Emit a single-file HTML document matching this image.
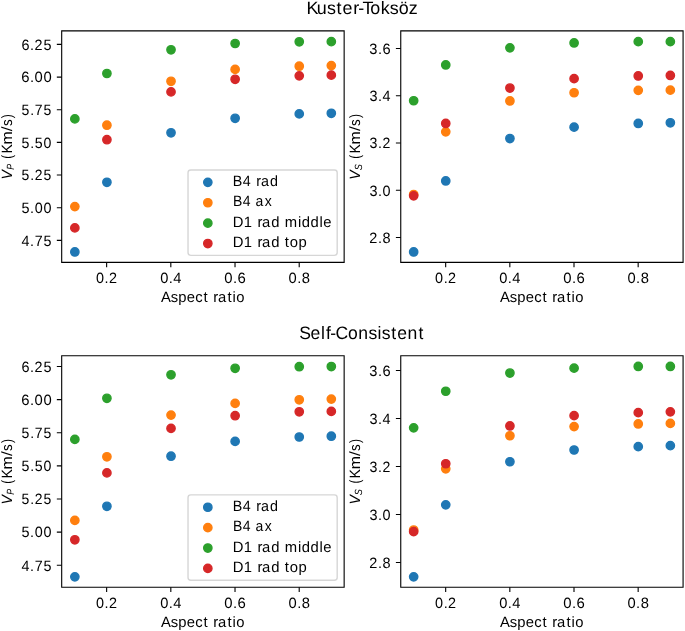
<!DOCTYPE html>
<html><head><meta charset="utf-8"><title>Kuster-Toksöz / Self-Consistent</title>
<style>html,body{margin:0;padding:0;background:#fff;overflow:hidden;width:685px;height:631px}svg{display:block}
text{font-family:"Liberation Sans",sans-serif}</style></head>
<body>
<svg width="685" height="631" viewBox="0 0 685 631"><rect width="685" height="631" fill="#fff"/>
<circle cx="74.85" cy="251.97" r="4.167" fill="#1f77b4" stroke="#1f77b4" stroke-width="1.389"/>
<circle cx="106.91" cy="182.28" r="4.167" fill="#1f77b4" stroke="#1f77b4" stroke-width="1.389"/>
<circle cx="171.02" cy="132.80" r="4.167" fill="#1f77b4" stroke="#1f77b4" stroke-width="1.389"/>
<circle cx="235.13" cy="118.30" r="4.167" fill="#1f77b4" stroke="#1f77b4" stroke-width="1.389"/>
<circle cx="299.25" cy="113.93" r="4.167" fill="#1f77b4" stroke="#1f77b4" stroke-width="1.389"/>
<circle cx="331.31" cy="113.29" r="4.167" fill="#1f77b4" stroke="#1f77b4" stroke-width="1.389"/>
<circle cx="74.85" cy="206.60" r="4.167" fill="#ff7f0e" stroke="#ff7f0e" stroke-width="1.389"/>
<circle cx="106.91" cy="125.20" r="4.167" fill="#ff7f0e" stroke="#ff7f0e" stroke-width="1.389"/>
<circle cx="171.02" cy="81.30" r="4.167" fill="#ff7f0e" stroke="#ff7f0e" stroke-width="1.389"/>
<circle cx="235.13" cy="69.40" r="4.167" fill="#ff7f0e" stroke="#ff7f0e" stroke-width="1.389"/>
<circle cx="299.25" cy="66.20" r="4.167" fill="#ff7f0e" stroke="#ff7f0e" stroke-width="1.389"/>
<circle cx="331.31" cy="65.60" r="4.167" fill="#ff7f0e" stroke="#ff7f0e" stroke-width="1.389"/>
<circle cx="74.85" cy="118.89" r="4.167" fill="#2ca02c" stroke="#2ca02c" stroke-width="1.389"/>
<circle cx="106.91" cy="73.50" r="4.167" fill="#2ca02c" stroke="#2ca02c" stroke-width="1.389"/>
<circle cx="171.02" cy="49.80" r="4.167" fill="#2ca02c" stroke="#2ca02c" stroke-width="1.389"/>
<circle cx="235.13" cy="43.50" r="4.167" fill="#2ca02c" stroke="#2ca02c" stroke-width="1.389"/>
<circle cx="299.25" cy="41.80" r="4.167" fill="#2ca02c" stroke="#2ca02c" stroke-width="1.389"/>
<circle cx="331.31" cy="41.67" r="4.167" fill="#2ca02c" stroke="#2ca02c" stroke-width="1.389"/>
<circle cx="74.85" cy="227.90" r="4.167" fill="#d62728" stroke="#d62728" stroke-width="1.389"/>
<circle cx="106.91" cy="139.70" r="4.167" fill="#d62728" stroke="#d62728" stroke-width="1.389"/>
<circle cx="171.02" cy="91.90" r="4.167" fill="#d62728" stroke="#d62728" stroke-width="1.389"/>
<circle cx="235.13" cy="79.30" r="4.167" fill="#d62728" stroke="#d62728" stroke-width="1.389"/>
<circle cx="299.25" cy="75.87" r="4.167" fill="#d62728" stroke="#d62728" stroke-width="1.389"/>
<circle cx="331.31" cy="75.14" r="4.167" fill="#d62728" stroke="#d62728" stroke-width="1.389"/>
<circle cx="413.67" cy="251.97" r="4.167" fill="#1f77b4" stroke="#1f77b4" stroke-width="1.389"/>
<circle cx="445.76" cy="180.95" r="4.167" fill="#1f77b4" stroke="#1f77b4" stroke-width="1.389"/>
<circle cx="509.92" cy="138.55" r="4.167" fill="#1f77b4" stroke="#1f77b4" stroke-width="1.389"/>
<circle cx="574.09" cy="127.15" r="4.167" fill="#1f77b4" stroke="#1f77b4" stroke-width="1.389"/>
<circle cx="638.25" cy="123.45" r="4.167" fill="#1f77b4" stroke="#1f77b4" stroke-width="1.389"/>
<circle cx="670.34" cy="122.77" r="4.167" fill="#1f77b4" stroke="#1f77b4" stroke-width="1.389"/>
<circle cx="413.67" cy="194.55" r="4.167" fill="#ff7f0e" stroke="#ff7f0e" stroke-width="1.389"/>
<circle cx="445.76" cy="131.85" r="4.167" fill="#ff7f0e" stroke="#ff7f0e" stroke-width="1.389"/>
<circle cx="509.92" cy="100.95" r="4.167" fill="#ff7f0e" stroke="#ff7f0e" stroke-width="1.389"/>
<circle cx="574.09" cy="92.75" r="4.167" fill="#ff7f0e" stroke="#ff7f0e" stroke-width="1.389"/>
<circle cx="638.25" cy="90.35" r="4.167" fill="#ff7f0e" stroke="#ff7f0e" stroke-width="1.389"/>
<circle cx="670.34" cy="90.15" r="4.167" fill="#ff7f0e" stroke="#ff7f0e" stroke-width="1.389"/>
<circle cx="413.67" cy="100.75" r="4.167" fill="#2ca02c" stroke="#2ca02c" stroke-width="1.389"/>
<circle cx="445.76" cy="64.95" r="4.167" fill="#2ca02c" stroke="#2ca02c" stroke-width="1.389"/>
<circle cx="509.92" cy="47.85" r="4.167" fill="#2ca02c" stroke="#2ca02c" stroke-width="1.389"/>
<circle cx="574.09" cy="42.95" r="4.167" fill="#2ca02c" stroke="#2ca02c" stroke-width="1.389"/>
<circle cx="638.25" cy="41.65" r="4.167" fill="#2ca02c" stroke="#2ca02c" stroke-width="1.389"/>
<circle cx="670.34" cy="41.65" r="4.167" fill="#2ca02c" stroke="#2ca02c" stroke-width="1.389"/>
<circle cx="413.67" cy="195.85" r="4.167" fill="#d62728" stroke="#d62728" stroke-width="1.389"/>
<circle cx="445.76" cy="123.45" r="4.167" fill="#d62728" stroke="#d62728" stroke-width="1.389"/>
<circle cx="509.92" cy="88.05" r="4.167" fill="#d62728" stroke="#d62728" stroke-width="1.389"/>
<circle cx="574.09" cy="78.65" r="4.167" fill="#d62728" stroke="#d62728" stroke-width="1.389"/>
<circle cx="638.25" cy="75.98" r="4.167" fill="#d62728" stroke="#d62728" stroke-width="1.389"/>
<circle cx="670.34" cy="75.45" r="4.167" fill="#d62728" stroke="#d62728" stroke-width="1.389"/>
<circle cx="74.85" cy="576.87" r="4.167" fill="#1f77b4" stroke="#1f77b4" stroke-width="1.389"/>
<circle cx="106.91" cy="506.30" r="4.167" fill="#1f77b4" stroke="#1f77b4" stroke-width="1.389"/>
<circle cx="171.02" cy="456.20" r="4.167" fill="#1f77b4" stroke="#1f77b4" stroke-width="1.389"/>
<circle cx="235.13" cy="441.40" r="4.167" fill="#1f77b4" stroke="#1f77b4" stroke-width="1.389"/>
<circle cx="299.25" cy="437.00" r="4.167" fill="#1f77b4" stroke="#1f77b4" stroke-width="1.389"/>
<circle cx="331.31" cy="436.22" r="4.167" fill="#1f77b4" stroke="#1f77b4" stroke-width="1.389"/>
<circle cx="74.85" cy="520.40" r="4.167" fill="#ff7f0e" stroke="#ff7f0e" stroke-width="1.389"/>
<circle cx="106.91" cy="456.80" r="4.167" fill="#ff7f0e" stroke="#ff7f0e" stroke-width="1.389"/>
<circle cx="171.02" cy="415.10" r="4.167" fill="#ff7f0e" stroke="#ff7f0e" stroke-width="1.389"/>
<circle cx="235.13" cy="403.40" r="4.167" fill="#ff7f0e" stroke="#ff7f0e" stroke-width="1.389"/>
<circle cx="299.25" cy="399.80" r="4.167" fill="#ff7f0e" stroke="#ff7f0e" stroke-width="1.389"/>
<circle cx="331.31" cy="399.10" r="4.167" fill="#ff7f0e" stroke="#ff7f0e" stroke-width="1.389"/>
<circle cx="74.85" cy="439.40" r="4.167" fill="#2ca02c" stroke="#2ca02c" stroke-width="1.389"/>
<circle cx="106.91" cy="398.30" r="4.167" fill="#2ca02c" stroke="#2ca02c" stroke-width="1.389"/>
<circle cx="171.02" cy="374.80" r="4.167" fill="#2ca02c" stroke="#2ca02c" stroke-width="1.389"/>
<circle cx="235.13" cy="368.30" r="4.167" fill="#2ca02c" stroke="#2ca02c" stroke-width="1.389"/>
<circle cx="299.25" cy="366.73" r="4.167" fill="#2ca02c" stroke="#2ca02c" stroke-width="1.389"/>
<circle cx="331.31" cy="366.53" r="4.167" fill="#2ca02c" stroke="#2ca02c" stroke-width="1.389"/>
<circle cx="74.85" cy="539.80" r="4.167" fill="#d62728" stroke="#d62728" stroke-width="1.389"/>
<circle cx="106.91" cy="472.90" r="4.167" fill="#d62728" stroke="#d62728" stroke-width="1.389"/>
<circle cx="171.02" cy="428.40" r="4.167" fill="#d62728" stroke="#d62728" stroke-width="1.389"/>
<circle cx="235.13" cy="415.70" r="4.167" fill="#d62728" stroke="#d62728" stroke-width="1.389"/>
<circle cx="299.25" cy="411.80" r="4.167" fill="#d62728" stroke="#d62728" stroke-width="1.389"/>
<circle cx="331.31" cy="411.40" r="4.167" fill="#d62728" stroke="#d62728" stroke-width="1.389"/>
<circle cx="413.67" cy="576.87" r="4.167" fill="#1f77b4" stroke="#1f77b4" stroke-width="1.389"/>
<circle cx="445.76" cy="504.85" r="4.167" fill="#1f77b4" stroke="#1f77b4" stroke-width="1.389"/>
<circle cx="509.92" cy="461.75" r="4.167" fill="#1f77b4" stroke="#1f77b4" stroke-width="1.389"/>
<circle cx="574.09" cy="450.00" r="4.167" fill="#1f77b4" stroke="#1f77b4" stroke-width="1.389"/>
<circle cx="638.25" cy="446.65" r="4.167" fill="#1f77b4" stroke="#1f77b4" stroke-width="1.389"/>
<circle cx="670.34" cy="445.68" r="4.167" fill="#1f77b4" stroke="#1f77b4" stroke-width="1.389"/>
<circle cx="413.67" cy="530.05" r="4.167" fill="#ff7f0e" stroke="#ff7f0e" stroke-width="1.389"/>
<circle cx="445.76" cy="468.85" r="4.167" fill="#ff7f0e" stroke="#ff7f0e" stroke-width="1.389"/>
<circle cx="509.92" cy="435.75" r="4.167" fill="#ff7f0e" stroke="#ff7f0e" stroke-width="1.389"/>
<circle cx="574.09" cy="426.60" r="4.167" fill="#ff7f0e" stroke="#ff7f0e" stroke-width="1.389"/>
<circle cx="638.25" cy="423.95" r="4.167" fill="#ff7f0e" stroke="#ff7f0e" stroke-width="1.389"/>
<circle cx="670.34" cy="423.38" r="4.167" fill="#ff7f0e" stroke="#ff7f0e" stroke-width="1.389"/>
<circle cx="413.67" cy="427.85" r="4.167" fill="#2ca02c" stroke="#2ca02c" stroke-width="1.389"/>
<circle cx="445.76" cy="391.25" r="4.167" fill="#2ca02c" stroke="#2ca02c" stroke-width="1.389"/>
<circle cx="509.92" cy="373.05" r="4.167" fill="#2ca02c" stroke="#2ca02c" stroke-width="1.389"/>
<circle cx="574.09" cy="368.15" r="4.167" fill="#2ca02c" stroke="#2ca02c" stroke-width="1.389"/>
<circle cx="638.25" cy="366.45" r="4.167" fill="#2ca02c" stroke="#2ca02c" stroke-width="1.389"/>
<circle cx="670.34" cy="366.45" r="4.167" fill="#2ca02c" stroke="#2ca02c" stroke-width="1.389"/>
<circle cx="413.67" cy="531.65" r="4.167" fill="#d62728" stroke="#d62728" stroke-width="1.389"/>
<circle cx="445.76" cy="463.75" r="4.167" fill="#d62728" stroke="#d62728" stroke-width="1.389"/>
<circle cx="509.92" cy="425.95" r="4.167" fill="#d62728" stroke="#d62728" stroke-width="1.389"/>
<circle cx="574.09" cy="415.65" r="4.167" fill="#d62728" stroke="#d62728" stroke-width="1.389"/>
<circle cx="638.25" cy="412.65" r="4.167" fill="#d62728" stroke="#d62728" stroke-width="1.389"/>
<circle cx="670.34" cy="411.85" r="4.167" fill="#d62728" stroke="#d62728" stroke-width="1.389"/>
<path d="M106.63 262.33v4.861M170.82 262.33v4.861M235.02 262.33v4.861M299.21 262.33v4.861M61.69 240.36h-4.861M61.69 207.71h-4.861M61.69 175.05h-4.861M61.69 142.40h-4.861M61.69 109.74h-4.861M61.69 77.09h-4.861M61.69 44.43h-4.861" stroke="#000" stroke-width="1.111" fill="none"/>
<path d="M61.69 262.33V30.85M344.15 262.33V30.85M61.69 262.33H344.15M61.69 30.85H344.15" stroke="#000" stroke-width="1.111" fill="none" stroke-linecap="square"/>
<path d="M445.67 262.33v4.861M509.83 262.33v4.861M574.00 262.33v4.861M638.16 262.33v4.861M400.75 237.53h-4.861M400.75 190.27h-4.861M400.75 143.02h-4.861M400.75 95.76h-4.861M400.75 48.50h-4.861" stroke="#000" stroke-width="1.111" fill="none"/>
<path d="M400.75 262.33V30.85M683.08 262.33V30.85M400.75 262.33H683.08M400.75 30.85H683.08" stroke="#000" stroke-width="1.111" fill="none" stroke-linecap="square"/>
<path d="M106.63 587.23v4.861M170.82 587.23v4.861M235.02 587.23v4.861M299.21 587.23v4.861M61.69 565.27h-4.861M61.69 532.13h-4.861M61.69 499.00h-4.861M61.69 465.87h-4.861M61.69 432.74h-4.861M61.69 399.60h-4.861M61.69 366.47h-4.861" stroke="#000" stroke-width="1.111" fill="none"/>
<path d="M61.69 587.23V355.74M344.15 587.23V355.74M61.69 587.23H344.15M61.69 355.74H344.15" stroke="#000" stroke-width="1.111" fill="none" stroke-linecap="square"/>
<path d="M445.67 587.23v4.861M509.83 587.23v4.861M574.00 587.23v4.861M638.16 587.23v4.861M400.75 562.50h-4.861M400.75 514.49h-4.861M400.75 466.47h-4.861M400.75 418.46h-4.861M400.75 370.45h-4.861" stroke="#000" stroke-width="1.111" fill="none"/>
<path d="M400.75 587.23V355.74M683.08 587.23V355.74M400.75 587.23H683.08M400.75 355.74H683.08" stroke="#000" stroke-width="1.111" fill="none" stroke-linecap="square"/>
<rect x="188.03" y="170.02" width="149.17" height="85.36" rx="2.778" fill="#fff" fill-opacity="0.8" stroke="#ccc" stroke-opacity="0.8" stroke-width="1.389"/>
<circle cx="207.83" cy="182.36" r="4.167" fill="#1f77b4" stroke="#1f77b4" stroke-width="1.389"/>
<circle cx="207.83" cy="202.74" r="4.167" fill="#ff7f0e" stroke="#ff7f0e" stroke-width="1.389"/>
<circle cx="207.83" cy="223.13" r="4.167" fill="#2ca02c" stroke="#2ca02c" stroke-width="1.389"/>
<circle cx="207.83" cy="243.52" r="4.167" fill="#d62728" stroke="#d62728" stroke-width="1.389"/>
<rect x="188.03" y="494.92" width="149.17" height="85.36" rx="2.778" fill="#fff" fill-opacity="0.8" stroke="#ccc" stroke-opacity="0.8" stroke-width="1.389"/>
<circle cx="207.83" cy="507.26" r="4.167" fill="#1f77b4" stroke="#1f77b4" stroke-width="1.389"/>
<circle cx="207.83" cy="527.64" r="4.167" fill="#ff7f0e" stroke="#ff7f0e" stroke-width="1.389"/>
<circle cx="207.83" cy="548.03" r="4.167" fill="#2ca02c" stroke="#2ca02c" stroke-width="1.389"/>
<circle cx="207.83" cy="568.42" r="4.167" fill="#d62728" stroke="#d62728" stroke-width="1.389"/>
<g fill="#000" style="font-family:'Liberation Sans',sans-serif;font-kerning:none;filter:grayscale(1);text-rendering:geometricPrecision">
<text transform="translate(106.627 282.606) scale(0.9673 1)" x="-11.00 -2.08 2.50" y="0" style="font-size:14.931px">0.2</text>
<text transform="translate(170.822 282.606) scale(0.9829 1)" x="-10.89 -2.08 2.58" y="0" style="font-size:14.931px">0.4</text>
<text transform="translate(235.018 282.606) scale(0.9983 1)" x="-10.79 -2.08 2.48" y="0" style="font-size:14.931px">0.6</text>
<text transform="translate(299.213 282.606) scale(0.9877 1)" x="-10.86 -2.08 2.55" y="0" style="font-size:14.931px">0.8</text>
<text transform="translate(202.920 301.603) scale(0.9927 1)" x="-42.28 -32.51 -24.86 -16.18 -7.82 0.55 4.70 10.50 15.19 24.79 29.93 33.65" y="0" style="font-size:14.931px">Aspect ratio</text>
<text transform="translate(51.968 245.637) scale(0.9588 1)" x="-31.78 -22.80 -18.00 -8.82" y="0" style="font-size:14.931px">4.75</text>
<text transform="translate(51.968 212.982) scale(0.9651 1)" x="-31.65 -22.67 -17.88 -8.73" y="0" style="font-size:14.931px">5.00</text>
<text transform="translate(51.968 180.327) scale(0.9366 1)" x="-32.49 -23.29 -18.49 -8.93" y="0" style="font-size:14.931px">5.25</text>
<text transform="translate(51.968 147.672) scale(0.9478 1)" x="-32.15 -23.04 -18.19 -8.82" y="0" style="font-size:14.931px">5.50</text>
<text transform="translate(51.968 115.017) scale(0.9408 1)" x="-32.36 -23.20 -18.26 -8.91" y="0" style="font-size:14.931px">5.75</text>
<text transform="translate(51.968 82.362) scale(0.9927 1)" x="-30.83 -22.09 -17.50 -8.61" y="0" style="font-size:14.931px">6.00</text>
<text transform="translate(51.968 49.707) scale(0.9645 1)" x="-31.61 -22.68 -18.08 -8.79" y="0" style="font-size:14.931px">6.25</text>
<text transform="translate(12.599 179.368) rotate(-90) translate(0.000 -0.564) scale(0.9385 1)" x="-0.13" y="0" style="font-size:14.931px;font-style:italic">V</text>
<text transform="translate(12.599 179.368) rotate(-90) translate(9.501 1.714) scale(0.8480 1)" x="-0.01" y="0" style="font-size:10.451px;font-style:italic">P</text>
<text transform="translate(12.599 179.368) rotate(-90) translate(20.159 -0.564) scale(0.7863 1)" x="0.59" y="0" style="font-size:14.931px">(</text>
<text transform="translate(12.599 179.368) rotate(-90) translate(25.577 -0.564) scale(0.9381 1)" x="0.23" y="0" style="font-size:14.931px">K</text>
<text transform="translate(12.599 179.368) rotate(-90) translate(34.685 -0.564) scale(1.0599 1)" x="0.20" y="0" style="font-size:14.931px">m</text>
<text transform="translate(12.599 179.368) rotate(-90) translate(48.214 -0.564) scale(1.1281 1)" x="0.00" y="0" style="font-size:14.931px">/</text>
<text transform="translate(12.599 179.368) rotate(-90) translate(52.894 -0.564) scale(0.8917 1)" x="0.43" y="0" style="font-size:14.931px">s</text>
<text transform="translate(12.599 179.368) rotate(-90) translate(60.130 -0.564) scale(0.7863 1)" x="1.33" y="0" style="font-size:14.931px">)</text>
<text transform="translate(232.826 186.063) scale(0.9591 1)" x="-0.03 10.37 18.68 24.50 29.42 38.89" y="0" style="font-size:14.931px">B4 rad</text>
<text transform="translate(232.826 206.449) scale(0.9361 1)" x="0.09 10.73 19.03 24.16 34.02" y="0" style="font-size:14.931px">B4 ax</text>
<text transform="translate(232.826 226.835) scale(0.9922 1)" x="0.02 10.99 19.29 24.77 29.47 38.64 46.94 52.39 65.67 69.47 78.35 87.30 91.08" y="0" style="font-size:14.931px">D1 rad middle</text>
<text transform="translate(232.826 247.222) scale(0.9946 1)" x="0.00 10.95 19.25 24.70 29.38 38.53 46.84 52.25 57.22 65.99" y="0" style="font-size:14.931px">D1 rad top</text>
<text transform="translate(445.666 282.606) scale(0.9673 1)" x="-11.00 -2.08 2.50" y="0" style="font-size:14.931px">0.2</text>
<text transform="translate(509.832 282.606) scale(0.9829 1)" x="-10.89 -2.08 2.58" y="0" style="font-size:14.931px">0.4</text>
<text transform="translate(573.998 282.606) scale(0.9983 1)" x="-10.79 -2.08 2.48" y="0" style="font-size:14.931px">0.6</text>
<text transform="translate(638.164 282.606) scale(0.9877 1)" x="-10.86 -2.08 2.55" y="0" style="font-size:14.931px">0.8</text>
<text transform="translate(541.915 301.603) scale(0.9927 1)" x="-42.28 -32.51 -24.86 -16.18 -7.82 0.55 4.70 10.50 15.19 24.79 29.93 33.65" y="0" style="font-size:14.931px">Aspect ratio</text>
<text transform="translate(391.028 242.809) scale(0.9721 1)" x="-22.51 -13.44 -8.70" y="0" style="font-size:14.931px">2.8</text>
<text transform="translate(391.028 195.551) scale(0.9654 1)" x="-22.43 -13.52 -8.73" y="0" style="font-size:14.931px">3.0</text>
<text transform="translate(391.028 148.293) scale(0.9493 1)" x="-22.74 -13.71 -9.00" y="0" style="font-size:14.931px">3.2</text>
<text transform="translate(391.028 101.035) scale(0.9658 1)" x="-22.42 -13.51 -8.73" y="0" style="font-size:14.931px">3.4</text>
<text transform="translate(391.028 53.777) scale(0.9805 1)" x="-22.14 -13.34 -8.66" y="0" style="font-size:14.931px">3.6</text>
<text transform="translate(360.496 179.576) rotate(-90) translate(0.000 -0.564) scale(0.9385 1)" x="-0.13" y="0" style="font-size:14.931px;font-style:italic">V</text>
<text transform="translate(360.496 179.576) rotate(-90) translate(9.501 1.714) scale(0.8847 1)" x="-0.23" y="0" style="font-size:10.451px;font-style:italic">S</text>
<text transform="translate(360.496 179.576) rotate(-90) translate(20.467 -0.564) scale(0.7863 1)" x="0.59" y="0" style="font-size:14.931px">(</text>
<text transform="translate(360.496 179.576) rotate(-90) translate(25.886 -0.564) scale(0.9381 1)" x="0.23" y="0" style="font-size:14.931px">K</text>
<text transform="translate(360.496 179.576) rotate(-90) translate(34.993 -0.564) scale(1.0599 1)" x="0.20" y="0" style="font-size:14.931px">m</text>
<text transform="translate(360.496 179.576) rotate(-90) translate(48.523 -0.564) scale(1.1281 1)" x="0.00" y="0" style="font-size:14.931px">/</text>
<text transform="translate(360.496 179.576) rotate(-90) translate(53.202 -0.564) scale(0.8917 1)" x="0.43" y="0" style="font-size:14.931px">s</text>
<text transform="translate(360.496 179.576) rotate(-90) translate(60.438 -0.564) scale(0.7863 1)" x="1.33" y="0" style="font-size:14.931px">)</text>
<text transform="translate(106.627 607.506) scale(0.9673 1)" x="-11.00 -2.08 2.50" y="0" style="font-size:14.931px">0.2</text>
<text transform="translate(170.822 607.506) scale(0.9829 1)" x="-10.89 -2.08 2.58" y="0" style="font-size:14.931px">0.4</text>
<text transform="translate(235.018 607.506) scale(0.9983 1)" x="-10.79 -2.08 2.48" y="0" style="font-size:14.931px">0.6</text>
<text transform="translate(299.213 607.506) scale(0.9877 1)" x="-10.86 -2.08 2.55" y="0" style="font-size:14.931px">0.8</text>
<text transform="translate(202.920 626.503) scale(0.9927 1)" x="-42.28 -32.51 -24.86 -16.18 -7.82 0.55 4.70 10.50 15.19 24.79 29.93 33.65" y="0" style="font-size:14.931px">Aspect ratio</text>
<text transform="translate(51.968 570.542) scale(0.9588 1)" x="-31.78 -22.80 -18.00 -8.82" y="0" style="font-size:14.931px">4.75</text>
<text transform="translate(51.968 537.409) scale(0.9651 1)" x="-31.65 -22.67 -17.88 -8.73" y="0" style="font-size:14.931px">5.00</text>
<text transform="translate(51.968 504.277) scale(0.9366 1)" x="-32.49 -23.29 -18.49 -8.93" y="0" style="font-size:14.931px">5.25</text>
<text transform="translate(51.968 471.144) scale(0.9478 1)" x="-32.15 -23.04 -18.19 -8.82" y="0" style="font-size:14.931px">5.50</text>
<text transform="translate(51.968 438.012) scale(0.9408 1)" x="-32.36 -23.20 -18.26 -8.91" y="0" style="font-size:14.931px">5.75</text>
<text transform="translate(51.968 404.879) scale(0.9927 1)" x="-30.83 -22.09 -17.50 -8.61" y="0" style="font-size:14.931px">6.00</text>
<text transform="translate(51.968 371.747) scale(0.9645 1)" x="-31.61 -22.68 -18.08 -8.79" y="0" style="font-size:14.931px">6.25</text>
<text transform="translate(12.599 504.263) rotate(-90) translate(0.000 -0.564) scale(0.9385 1)" x="-0.13" y="0" style="font-size:14.931px;font-style:italic">V</text>
<text transform="translate(12.599 504.263) rotate(-90) translate(9.501 1.714) scale(0.8480 1)" x="-0.01" y="0" style="font-size:10.451px;font-style:italic">P</text>
<text transform="translate(12.599 504.263) rotate(-90) translate(20.159 -0.564) scale(0.7863 1)" x="0.59" y="0" style="font-size:14.931px">(</text>
<text transform="translate(12.599 504.263) rotate(-90) translate(25.577 -0.564) scale(0.9381 1)" x="0.23" y="0" style="font-size:14.931px">K</text>
<text transform="translate(12.599 504.263) rotate(-90) translate(34.685 -0.564) scale(1.0599 1)" x="0.20" y="0" style="font-size:14.931px">m</text>
<text transform="translate(12.599 504.263) rotate(-90) translate(48.214 -0.564) scale(1.1281 1)" x="0.00" y="0" style="font-size:14.931px">/</text>
<text transform="translate(12.599 504.263) rotate(-90) translate(52.894 -0.564) scale(0.8917 1)" x="0.43" y="0" style="font-size:14.931px">s</text>
<text transform="translate(12.599 504.263) rotate(-90) translate(60.130 -0.564) scale(0.7863 1)" x="1.33" y="0" style="font-size:14.931px">)</text>
<text transform="translate(232.826 510.963) scale(0.9591 1)" x="-0.03 10.37 18.68 24.50 29.42 38.89" y="0" style="font-size:14.931px">B4 rad</text>
<text transform="translate(232.826 531.349) scale(0.9361 1)" x="0.09 10.73 19.03 24.16 34.02" y="0" style="font-size:14.931px">B4 ax</text>
<text transform="translate(232.826 551.735) scale(0.9922 1)" x="0.02 10.99 19.29 24.77 29.47 38.64 46.94 52.39 65.67 69.47 78.35 87.30 91.08" y="0" style="font-size:14.931px">D1 rad middle</text>
<text transform="translate(232.826 572.122) scale(0.9946 1)" x="0.00 10.95 19.25 24.70 29.38 38.53 46.84 52.25 57.22 65.99" y="0" style="font-size:14.931px">D1 rad top</text>
<text transform="translate(445.666 607.506) scale(0.9673 1)" x="-11.00 -2.08 2.50" y="0" style="font-size:14.931px">0.2</text>
<text transform="translate(509.832 607.506) scale(0.9829 1)" x="-10.89 -2.08 2.58" y="0" style="font-size:14.931px">0.4</text>
<text transform="translate(573.998 607.506) scale(0.9983 1)" x="-10.79 -2.08 2.48" y="0" style="font-size:14.931px">0.6</text>
<text transform="translate(638.164 607.506) scale(0.9877 1)" x="-10.86 -2.08 2.55" y="0" style="font-size:14.931px">0.8</text>
<text transform="translate(541.915 626.503) scale(0.9927 1)" x="-42.28 -32.51 -24.86 -16.18 -7.82 0.55 4.70 10.50 15.19 24.79 29.93 33.65" y="0" style="font-size:14.931px">Aspect ratio</text>
<text transform="translate(391.028 567.775) scale(0.9721 1)" x="-22.51 -13.44 -8.70" y="0" style="font-size:14.931px">2.8</text>
<text transform="translate(391.028 519.763) scale(0.9654 1)" x="-22.43 -13.52 -8.73" y="0" style="font-size:14.931px">3.0</text>
<text transform="translate(391.028 471.751) scale(0.9493 1)" x="-22.74 -13.71 -9.00" y="0" style="font-size:14.931px">3.2</text>
<text transform="translate(391.028 423.739) scale(0.9658 1)" x="-22.42 -13.51 -8.73" y="0" style="font-size:14.931px">3.4</text>
<text transform="translate(391.028 375.727) scale(0.9805 1)" x="-22.14 -13.34 -8.66" y="0" style="font-size:14.931px">3.6</text>
<text transform="translate(360.496 504.471) rotate(-90) translate(0.000 -0.564) scale(0.9385 1)" x="-0.13" y="0" style="font-size:14.931px;font-style:italic">V</text>
<text transform="translate(360.496 504.471) rotate(-90) translate(9.501 1.714) scale(0.8847 1)" x="-0.23" y="0" style="font-size:10.451px;font-style:italic">S</text>
<text transform="translate(360.496 504.471) rotate(-90) translate(20.467 -0.564) scale(0.7863 1)" x="0.59" y="0" style="font-size:14.931px">(</text>
<text transform="translate(360.496 504.471) rotate(-90) translate(25.886 -0.564) scale(0.9381 1)" x="0.23" y="0" style="font-size:14.931px">K</text>
<text transform="translate(360.496 504.471) rotate(-90) translate(34.993 -0.564) scale(1.0599 1)" x="0.20" y="0" style="font-size:14.931px">m</text>
<text transform="translate(360.496 504.471) rotate(-90) translate(48.523 -0.564) scale(1.1281 1)" x="0.00" y="0" style="font-size:14.931px">/</text>
<text transform="translate(360.496 504.471) rotate(-90) translate(53.202 -0.564) scale(0.8917 1)" x="0.43" y="0" style="font-size:14.931px">s</text>
<text transform="translate(360.496 504.471) rotate(-90) translate(60.438 -0.564) scale(0.7863 1)" x="1.33" y="0" style="font-size:14.931px">)</text>
<text transform="translate(362.000 14.200) scale(0.9997 1)" x="-55.65 -45.21 -34.95 -25.53 -19.57 -8.76 -3.65 0.45 8.23 18.74 27.89 36.70 46.73" y="0" style="font-size:17.917px">Kuster-Toksöz</text>
<text transform="translate(362.000 338.600) scale(0.9815 1)" x="-63.89 -52.37 -41.86 -36.80 -32.37 -26.98 -14.29 -3.71 6.65 15.79 20.18 29.74 35.86 46.44 57.54" y="0" style="font-size:17.917px">Self-Consistent</text>
</g></svg>
</body></html>
